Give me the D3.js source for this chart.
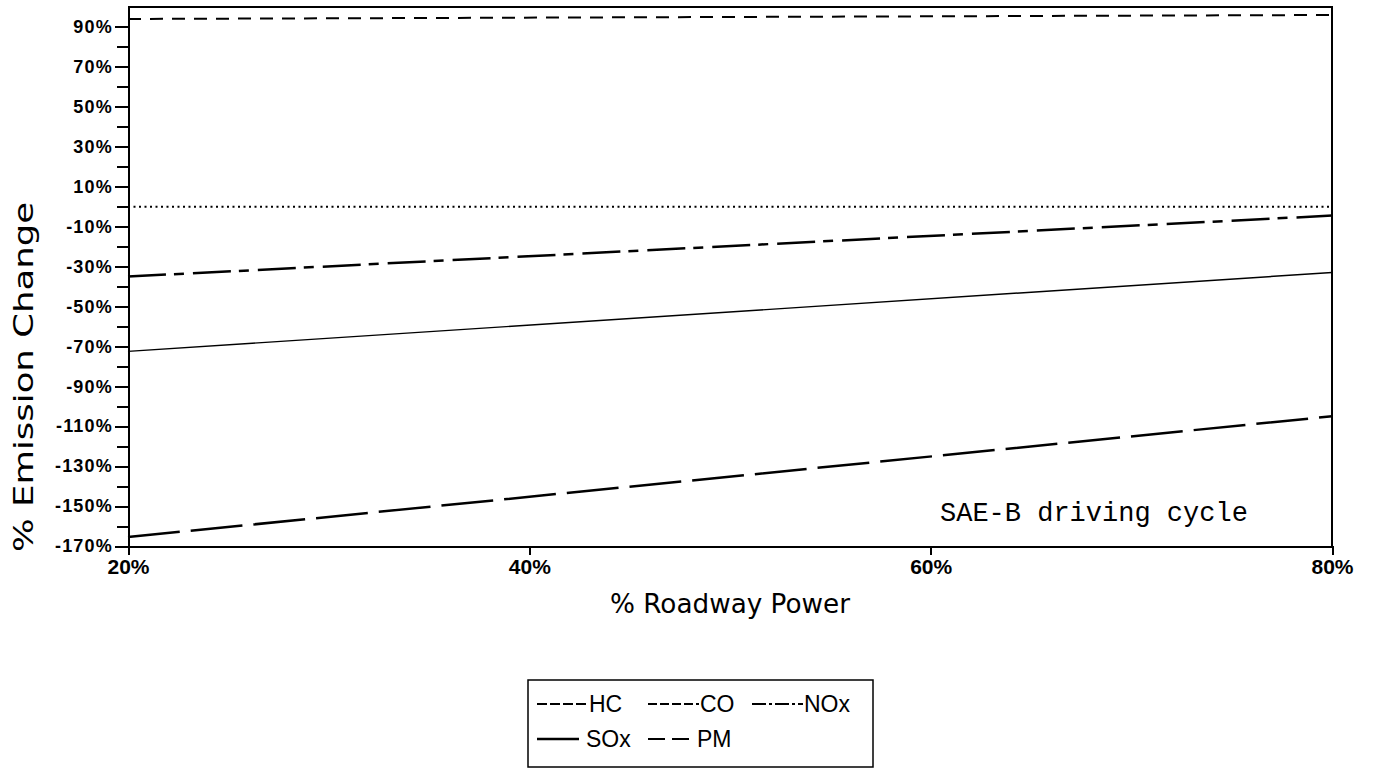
<!DOCTYPE html>
<html lang="en">
    <head>
        <meta charset="utf-8">
        <title>Emission Change vs Roadway Power</title>
        <style>
            body, html {
                margin: 0;
                padding: 0;
                background: white;
            }
            .axis path, .axis line {
                fill: none;
                stroke: black;
                stroke-width: 2px;
                shape-rendering: crispEdges;
            }
            .y.axis text {
                font-family: "Liberation Sans", Arial, sans-serif;
                font-weight: bold;
                font-size: 18px;
                letter-spacing: 1.2px;
            }
            .x.axis text {
                font-family: "Liberation Sans", Arial, sans-serif;
                font-weight: bold;
                font-size: 21px;
            }
            .title {
                font-family: "DejaVu Sans", sans-serif;
                font-size: 26px;
            }
            .legend text {
                font-family: "Liberation Sans Narrow", "Liberation Sans", sans-serif;
                font-size: 23px;
            }
        </style>
        <script src="https://d3js.org/d3.v7.min.js"></script>
    </head>
    <body>
        <svg id="chart" width="1375" height="770"></svg>
        <script type="text/javascript">
            // values (% roadway power -> % emission change)
            var roadwayPower = [20, 80];
            var hcChange = [94, 96];
            var coChange = [0, 0];
            var noxChange = [-35, -4.5];
            var soxChange = [-72.5, -33];
            var pmChange = [-165.5, -105];

            var yMajorTicks = [90, 70, 50, 30, 10, -10, -30, -50, -70, -90, -110, -130, -150, -170];
            var yMinorTicks = [80, 60, 40, 20, 0, -20, -40, -60, -80, -100, -120, -140, -160];
            var xTicks = [20, 40, 60, 80];

            var seriesNames = ["HC", "CO", "NOx", "SOx", "PM"];

            var series = [
                {name: seriesNames[0], values: hcChange, dash: "13,9", width: 2, legendDash: "10,3"},
                {name: seriesNames[1], values: coChange, dash: "2,3.5", width: 2, legendDash: "9,3"},
                {name: seriesNames[2], values: noxChange, dash: "38,8,10,9", width: 2.5, legendDash: "14,3,3,3"},
                {name: seriesNames[3], values: soxChange, dash: null, width: 1.4, legendDash: null},
                {name: seriesNames[4], values: pmChange, dash: "52,11", width: 2.5, legendDash: "17,7"}
            ];

            var svg = d3.select("#chart");

            var plotLeft = 128, plotRight = 1332, plotTop = 7, plotBottom = 546;

            var x = d3.scaleLinear().domain([20, 80]).range([plotLeft, plotRight]);
            var y = d3.scaleLinear().domain([-170, 100]).range([plotBottom, plotTop]);

            // minor y ticks first (no labels)
            svg.append("g")
                .attr("class", "y axis minor")
                .attr("transform", "translate(" + plotLeft + ",0)")
                .call(d3.axisLeft(y).tickValues(yMinorTicks).tickSize(11).tickFormat(""))
                .select(".domain").remove();

            svg.append("g")
                .attr("class", "y axis")
                .attr("transform", "translate(" + plotLeft + ",0)")
                .call(d3.axisLeft(y).tickValues(yMajorTicks).tickSize(13).tickSizeOuter(0).tickPadding(2)
                    .tickFormat(function(d) { return d + "%"; }));

            svg.append("g")
                .attr("class", "x axis")
                .attr("transform", "translate(0," + plotBottom + ")")
                .call(d3.axisBottom(x).tickValues(xTicks).tickSize(9).tickSizeOuter(0).tickPadding(4)
                    .tickFormat(function(d) { return d + "%"; }));

            // top and right frame
            svg.append("path")
                .attr("d", "M" + plotLeft + "," + plotTop + "H" + plotRight + "V" + plotBottom)
                .attr("fill", "none")
                .attr("stroke", "black")
                .attr("stroke-width", 2);

            var line = d3.line()
                .x(function(d, i) { return x(roadwayPower[i]); })
                .y(function(d) { return y(d); });

            svg.append("g").selectAll("path")
                .data(series)
                .enter().append("path")
                .attr("d", function(d) { return line(d.values); })
                .attr("fill", "none")
                .attr("stroke", "black")
                .attr("stroke-width", function(d) { return d.width; })
                .attr("stroke-dasharray", function(d) { return d.dash; });

            svg.append("text")
                .attr("x", 940)
                .attr("y", 521)
                .style("font-family", "'Liberation Mono', monospace")
                .style("font-size", "27px")
                .text("SAE-B driving cycle");

            // axis titles
            svg.append("text")
                .attr("class", "title")
                .attr("x", (plotLeft + plotRight) / 2)
                .attr("y", 613)
                .attr("text-anchor", "middle")
                .attr("textLength", 240)
                .attr("lengthAdjust", "spacingAndGlyphs")
                .text("% Roadway Power");

            svg.append("text")
                .attr("class", "title")
                .attr("transform", "translate(33,377) rotate(-90)")
                .attr("text-anchor", "middle")
                .attr("textLength", 350)
                .attr("lengthAdjust", "spacingAndGlyphs")
                .text("% Emission Change");

            // legend box, two rows
            var legendX = [537, 648, 752];
            var legendY = [704, 739];

            var legend = svg.append("g").attr("class", "legend");
            legend.append("rect")
                .attr("x", 528)
                .attr("y", 680)
                .attr("width", 345)
                .attr("height", 87)
                .attr("fill", "white")
                .attr("stroke", "black")
                .attr("stroke-width", 1.5);

            var items = legend.selectAll("g.item")
                .data(series)
                .enter().append("g")
                .attr("class", "item")
                .attr("transform", function(d, i) {
                    return "translate(" + legendX[i % 3] + "," + legendY[Math.floor(i / 3)] + ")";
                });

            items.append("line")
                .attr("x1", 0)
                .attr("x2", function(d) { return d.name === "SOx" || d.name === "PM" ? 42 : 51; })
                .attr("y1", 0).attr("y2", 0)
                .attr("stroke", "black")
                .attr("stroke-width", function(d) { return d.name === "SOx" ? 2.5 : 2; })
                .attr("stroke-dasharray", function(d) { return d.legendDash; });

            items.append("text")
                .attr("x", function(d) { return d.name === "SOx" || d.name === "PM" ? 49 : 52; })
                .attr("y", 8)
                .text(function(d) { return d.name; });
        </script>
    </body>
</html>
